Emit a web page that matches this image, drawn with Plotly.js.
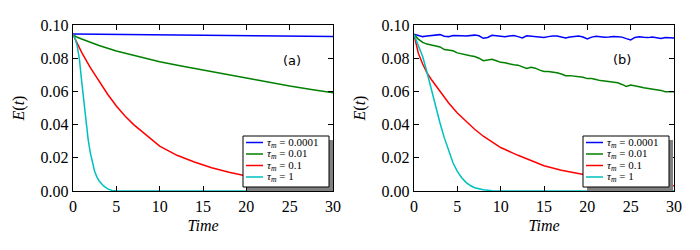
<!DOCTYPE html>
<html>
<head>
<meta charset="utf-8">
<script src="https://cdn.plot.ly/plotly-3.0.1.min.js"></script>
<style>html,body{margin:0;padding:0;background:#fff;}#chart{width:700px;height:250px;}</style>
</head>
<body>
<div id="chart"></div>
<script>
// ---------- data ----------
const seriesLabels = ["<i>τ<sub>m</sub></i> = 0.0001", "<i>τ<sub>m</sub></i> = 0.01", "<i>τ<sub>m</sub></i> = 0.1", "<i>τ<sub>m</sub></i> = 1"];
const seriesColors = ["#0000ff", "#008000", "#ff0000", "#00bfbf"];
const panelLabels = ["(a)", "(b)"];

// Panel (a)
const aBlueT = [0, 10, 20, 30];
const aBlueE = [0.0946, 0.0941, 0.0935, 0.0930];
const aGreenT = [0, 0.5, 1, 2, 3, 5, 7.5, 10, 12.5, 15, 17.5, 20, 22.5, 25, 27.5, 30];
const aGreenE = [0.0942, 0.0926, 0.0916, 0.0896, 0.0877, 0.0843, 0.0810, 0.0779, 0.0753, 0.0728, 0.0703, 0.0678, 0.0655, 0.0632, 0.0612, 0.0592];
const aRedT = [0, 1, 2, 3, 4, 5, 6, 7, 8, 10, 12, 14, 16, 18, 20, 22, 25, 28, 30];
const aRedE = [0.0942, 0.0835, 0.0743, 0.0660, 0.0583, 0.0512, 0.0452, 0.0400, 0.0355, 0.0270, 0.0215, 0.0175, 0.0140, 0.0113, 0.0091, 0.0074, 0.0053, 0.0038, 0.0030];
const aCyanT = [0, 0.25, 0.5, 0.75, 1, 1.25, 1.5, 1.75, 2, 2.25, 2.5, 2.75, 3, 3.5, 4, 4.5, 5, 30];
const aCyanE = [0.0942, 0.0920, 0.0870, 0.0790, 0.0660, 0.0530, 0.0410, 0.0310, 0.0230, 0.0165, 0.0118, 0.0085, 0.0062, 0.0032, 0.0013, 0.0003, 0, 0];

// Panel (b)
const bT = [0,0.5,1,1.5,2,2.5,3,3.5,4,4.5,5,5.5,6,6.5,7,7.5,8,8.5,9,9.5,10,10.5,11,11.5,12,12.5,13,13.5,14,14.5,15,15.5,16,16.5,17,17.5,18,18.5,19,19.5,20,20.5,21,21.5,22,22.5,23,23.5,24,24.5,25,25.5,26,26.5,27,27.5,28,28.5,29,29.5,30];
const bBlueE = [0.0945,0.0938,0.0930,0.0933,0.0937,0.0938,0.0942,0.0932,0.0930,0.0937,0.0934,0.0935,0.0933,0.0936,0.0939,0.0935,0.0920,0.0925,0.0938,0.0935,0.0933,0.0929,0.0934,0.0936,0.0930,0.0922,0.0935,0.0933,0.0931,0.0927,0.0925,0.0930,0.0934,0.0933,0.0929,0.0922,0.0928,0.0932,0.0934,0.0928,0.0916,0.0927,0.0932,0.0929,0.0926,0.0928,0.0931,0.0929,0.0927,0.0918,0.0910,0.0925,0.0929,0.0926,0.0924,0.0928,0.0925,0.0919,0.0924,0.0925,0.0922];
const bGreenE = [0.0942,0.0915,0.0895,0.0885,0.0880,0.0876,0.0868,0.0852,0.0848,0.0845,0.0832,0.0825,0.0818,0.0815,0.0810,0.0800,0.0785,0.0790,0.0793,0.0785,0.0775,0.0772,0.0765,0.0760,0.0758,0.0748,0.0738,0.0745,0.0740,0.0728,0.0720,0.0720,0.0718,0.0712,0.0705,0.0695,0.0695,0.0693,0.0690,0.0685,0.0677,0.0678,0.0672,0.0665,0.0663,0.0660,0.0657,0.0652,0.0642,0.0630,0.0638,0.0635,0.0628,0.0622,0.0618,0.0613,0.0612,0.0606,0.0598,0.0600,0.0598];
const bRedT = [0, 0.5, 1, 1.5, 2, 3, 4, 5, 6, 7, 8, 9, 10, 12, 14, 15, 17, 19, 20, 22, 25, 28, 30];
const bRedE = [0.0942, 0.0830, 0.0765, 0.0712, 0.0672, 0.0600, 0.0530, 0.0470, 0.0420, 0.0372, 0.0330, 0.0298, 0.0262, 0.0215, 0.0175, 0.0152, 0.0125, 0.0105, 0.0093, 0.0075, 0.0055, 0.0040, 0.0032];
const bCyanT = [0, 0.5, 1, 1.5, 2, 2.5, 3, 3.5, 4, 4.5, 5, 5.5, 6, 6.5, 7, 7.5, 8, 9, 10, 30];
const bCyanE = [0.0942, 0.0880, 0.0810, 0.0715, 0.0610, 0.0505, 0.0410, 0.0320, 0.0240, 0.0170, 0.0118, 0.0080, 0.0052, 0.0033, 0.0020, 0.0012, 0.0007, 0.0002, 0, 0];

const xTicks = [0, 5, 10, 15, 20, 25, 30];
const yTicks = [0.00, 0.02, 0.04, 0.06, 0.08, 0.10];
const yTickText = ["0.00", "0.02", "0.04", "0.06", "0.08", "0.10"];

// ---------- traces ----------
const aSets = [[aBlueT, aBlueE], [aGreenT, aGreenE], [aRedT, aRedE], [aCyanT, aCyanE]];
const bSets = [[bT, bBlueE], [bT, bGreenE], [bRedT, bRedE], [bCyanT, bCyanE]];
const traces = [];
aSets.forEach((s, i) => traces.push({x: s[0], y: s[1], type: 'scatter', mode: 'lines', name: seriesLabels[i],
  line: {color: seriesColors[i], width: 1.5}, xaxis: 'x', yaxis: 'y', showlegend: false}));
bSets.forEach((s, i) => traces.push({x: s[0], y: s[1], type: 'scatter', mode: 'lines', name: seriesLabels[i],
  line: {color: seriesColors[i], width: 1.5}, xaxis: 'x2', yaxis: 'y2', showlegend: false}));

const serif = 'Liberation Serif';
function xAx(domain, anchor) {
  return {domain: domain, anchor: anchor, range: [0, 30], tickvals: xTicks, ticks: 'inside', ticklen: 5, tickwidth: 1,
    tickcolor: '#000', showline: true, linecolor: '#000', linewidth: 1.3, mirror: 'allticks', showgrid: false, zeroline: false,
    tickfont: {family: serif, size: 16, color: '#000'},
    title: {text: '<i>Time</i>', font: {family: serif, size: 16, color: '#000'}, standoff: 6}};
}
function yAx(anchor) {
  return {domain: [0, 1], anchor: anchor, range: [0, 0.1], tickvals: yTicks, ticktext: yTickText, ticks: 'inside', ticklen: 5, tickwidth: 1,
    tickcolor: '#000', showline: true, linecolor: '#000', linewidth: 1.3, mirror: 'allticks', showgrid: false, zeroline: false,
    tickfont: {family: serif, size: 16, color: '#000'},
    title: {text: '<i>E</i>(<i>t</i>)', font: {family: serif, size: 16, color: '#000'}, standoff: 12}};
}
const W = 700, H = 250, ml = 73, mr = 26, mt = 25, mb = 59;
const pw = W - ml - mr, ph = H - mt - mb;
const px = v => (v - ml) / pw;
const py = v => (H - mb - v) / ph;

// ---------- hand-built legends (box, shadow, line samples, labels) ----------
const shapes = [], annotations = [];
const legendBoxes = [{x0: 243, x1: 329}, {x0: 583, x1: 669}];
const legTop = 136, legBottom = 187, rowY = [142.5, 154, 165.5, 177], shadowOff = 4;
legendBoxes.forEach(b => {
  shapes.push({type: 'rect', xref: 'paper', yref: 'paper', x0: px(b.x0 + shadowOff), x1: px(b.x1 + shadowOff),
    y0: py(legBottom + shadowOff), y1: py(legTop + shadowOff), fillcolor: '#808080', line: {width: 0}, layer: 'above'});
  shapes.push({type: 'rect', xref: 'paper', yref: 'paper', x0: px(b.x0), x1: px(b.x1),
    y0: py(legBottom), y1: py(legTop), fillcolor: '#ffffff', line: {color: '#000', width: 1}, layer: 'above'});
  seriesLabels.forEach((lab, i) => {
    shapes.push({type: 'line', xref: 'paper', yref: 'paper', x0: px(b.x0 + 3), x1: px(b.x0 + 20),
      y0: py(rowY[i]), y1: py(rowY[i]), line: {color: seriesColors[i], width: 1.5}, layer: 'above'});
    annotations.push({text: lab, xref: 'paper', yref: 'paper', x: px(b.x0 + 22), y: py(rowY[i]), xanchor: 'left', yanchor: 'middle',
      showarrow: false, font: {family: serif, size: 11, color: '#000'}});
  });
});
const panelPos = [[292, 51], [633, 50]];
panelLabels.forEach((t, i) => annotations.push({text: t, xref: 'paper', yref: 'paper', x: px(panelPos[i][0]), y: py(panelPos[i][1]),
  showarrow: false, font: {family: 'DejaVu Sans', size: 13, color: '#000'}}));

const layout = {
  width: W, height: H, margin: {l: ml, r: mr, t: mt, b: mb}, paper_bgcolor: '#fff', plot_bgcolor: '#fff', showlegend: false,
  xaxis: xAx([0, px(333)], 'y'), yaxis: yAx('x'),
  xaxis2: xAx([px(414), 1], 'y2'), yaxis2: yAx('x2'),
  shapes: shapes, annotations: annotations
};
Plotly.newPlot('chart', traces, layout, {staticPlot: true, displayModeBar: false});
</script>
</body>
</html>
